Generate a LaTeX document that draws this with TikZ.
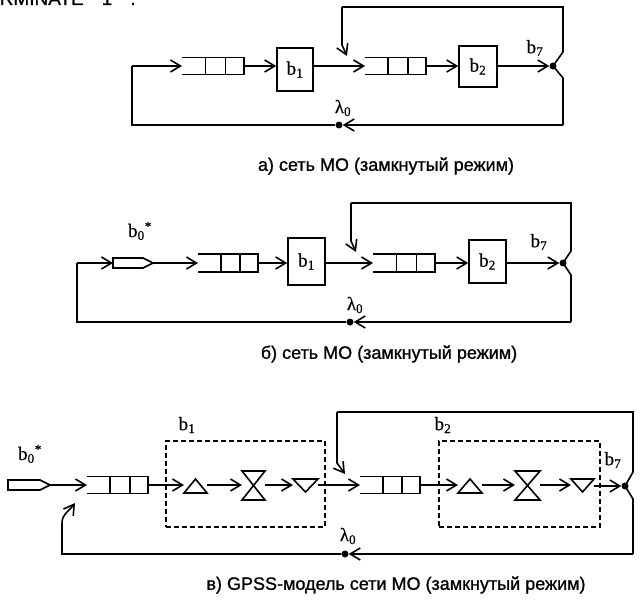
\documentclass[tikz,border=0pt]{standalone}
\usepackage{fontspec}
\setmainfont[FakeBold=0.5]{Liberation Serif}
\newfontfamily\capfont[FakeBold=1]{Liberation Sans}
\usetikzlibrary{arrows.meta,calc}

\tikzset{
 ln/.style={line width=1.6pt},
 arr/.style={-{Straight Barb[length=10pt,width=12pt]}},
 blk/.style={draw, line width=1.6pt, inner sep=0pt},
 ph/.style={inner sep=0pt, outer sep=0pt},
 dotn/.style={circle, fill, inner sep=0pt, minimum size=7pt},
 lbl/.style={font=\fontsize{19}{20}\selectfont, inner sep=0pt},
 captxt/.style={font=\capfont\fontsize{18}{20}\selectfont, inner sep=0pt},
 toptxt/.style={font=\capfont\fontsize{19}{20}\selectfont, inner sep=0pt},
 dbox/.style={draw, dash pattern=on 5pt off 3pt, line width=1.6pt, inner sep=0pt}
}

\newcommand\drawqueue[1]{%
 \draw[ln] (#1.north west) -- (#1.north east) -- (#1.south east) -- (#1.south west);
 \draw[ln] ($(#1.north west)!0.38!(#1.north east)$) -- ($(#1.south west)!0.38!(#1.south east)$);
 \draw[ln] ($(#1.north west)!0.70!(#1.north east)$) -- ($(#1.south west)!0.70!(#1.south east)$);}
\newcommand\drawgen[1]{%
 \draw[ln] (#1.north west) -- ($(#1.north east)+(-10,0)$) -- (#1.east) -- ($(#1.south east)+(-10,0)$) -- (#1.south west) -- cycle;}
\newcommand\drawup[1]{\draw[ln] (#1.south west) -- (#1.south east) -- (#1.north) -- cycle;}
\newcommand\drawdown[1]{\draw[ln] (#1.north west) -- (#1.north east) -- (#1.south) -- cycle;}
\newcommand\drawhg[1]{\draw[ln] (#1.north west) -- (#1.north east) -- (#1.south west) -- (#1.south east) -- cycle;}

\begin{document}
\begin{tikzpicture}[x=1pt,y=-1pt]
\useasboundingbox (0,0) rectangle (642,602);

% text cut off at the top edge, as in the reference
\begin{scope}
\clip (0,0) rectangle (642,602);
\node[toptxt, anchor=base east] (tterm) at (84,5) {TERMINATE};
\node[toptxt, anchor=base] (tone) at (107,5) {1};
\node[toptxt, anchor=base] (tdot) at (133,5) {.};
\end{scope}

%%%%%%%%%%%%%%%%%%%% a)
\node[ph, minimum width=62pt, minimum height=17pt] (aq1) at (213,66) {};
\drawqueue{aq1}
\node[blk, lbl, minimum width=36pt, minimum height=43pt] (ab1) at (295,69.5) {b\textsubscript{1}};
\node[ph, minimum width=61pt, minimum height=17pt] (aq2) at (395.5,66) {};
\drawqueue{aq2}
\node[blk, lbl, minimum width=38pt, minimum height=41pt] (ab2) at (478,66.5) {b\textsubscript{2}};
\node[dotn] (adot) at (553,66) {};
\node[dotn] (aldot) at (339,125) {};
\coordinate (aml) at (132,66);
\coordinate (abl) at (132,125);
\coordinate (abr) at (563,125);
\coordinate (aj1) at (563,52);
\coordinate (aj2) at (563,78);
\coordinate (atr) at (563,7);
\coordinate (atl) at (342,7);
\coordinate (ahook) at (342,45);
\coordinate (atip) at (347,56);

\draw[ln,arr] (aml) -- (aq1.west);
\draw[ln,arr] (aq1.east) -- (aq1.east -| ab1.west);
\draw[ln,arr] (ab1.east |- aq2.west) -- (aq2.west);
\draw[ln,arr] (aq2.east) -- (aq2.east -| ab2.west);
\draw[ln,arr] (ab2.east |- adot) -- (adot);
\draw[ln] (atl) -- (atr) -- (aj1) -- (adot.center) -- (aj2) -- (abr);
\draw[ln,arr] (atl) -- (ahook) -- (atip);
\draw[ln,arr] (abr) -- (aldot);
\draw[ln] (aldot) -- (abl) -- (aml);

\node[lbl] (ab7) at (535,48) {b\textsubscript{7}};
\node[lbl] (alam) at (343,108) {λ\textsubscript{0}};
\node[captxt] (acap) at (386,166) {а) сеть МО (замкнутый режим)};

%%%%%%%%%%%%%%%%%%%% б)
\node[ph, minimum width=40pt, minimum height=10pt] (bgen) at (133,263) {};
\drawgen{bgen}
\node[ph, minimum width=60pt, minimum height=18pt] (bq1) at (228,263) {};
\drawqueue{bq1}
\node[blk, lbl, minimum width=37pt, minimum height=47pt] (bb1) at (306.5,261.5) {b\textsubscript{1}};
\node[ph, minimum width=62pt, minimum height=18pt] (bq2) at (404,263) {};
\drawqueue{bq2}
\node[blk, lbl, minimum width=37pt, minimum height=43pt] (bb2) at (487.5,261.5) {b\textsubscript{2}};
\node[dotn] (bdot) at (563,263) {};
\node[dotn] (bldot) at (350,322) {};
\coordinate (bml) at (77,263);
\coordinate (bbl) at (77,322);
\coordinate (bbr) at (571,322);
\coordinate (bj1) at (571,251);
\coordinate (bj2) at (571,275);
\coordinate (btr) at (571,203);
\coordinate (btl) at (351,203);
\coordinate (bhook) at (351,241);
\coordinate (btip) at (356,252);

\draw[ln,arr] (bml) -- (bgen.west);
\draw[ln,arr] (bgen.east) -- (bq1.west);
\draw[ln,arr] (bq1.east) -- (bq1.east -| bb1.west);
\draw[ln,arr] (bb1.east |- bq2.west) -- (bq2.west);
\draw[ln,arr] (bq2.east) -- (bq2.east -| bb2.west);
\draw[ln,arr] (bb2.east |- bdot) -- (bdot);
\draw[ln] (btl) -- (btr) -- (bj1) -- (bdot.center) -- (bj2) -- (bbr);
\draw[ln,arr] (btl) -- (bhook) -- (btip);
\draw[ln,arr] (bbr) -- (bldot);
\draw[ln] (bldot) -- (bbl) -- (bml);

\node[lbl] (bb0) at (140,231) {b\textsubscript{0}\textsuperscript{*}};
\node[lbl] (bb7) at (539,242) {b\textsubscript{7}};
\node[lbl] (blam) at (355,305) {λ\textsubscript{0}};
\node[captxt] (bcap) at (389,354) {б) сеть МО (замкнутый режим)};

%%%%%%%%%%%%%%%%%%%% в)
\node[dbox, minimum width=159pt, minimum height=86pt] (cbox1) at (245.5,484) {};
\node[dbox, minimum width=161pt, minimum height=86pt] (cbox2) at (519.5,484) {};

\node[ph, minimum width=42pt, minimum height=10pt] (cgen) at (29,485) {};
\drawgen{cgen}
\node[ph, minimum width=61pt, minimum height=17pt] (cq1) at (117.5,485) {};
\drawqueue{cq1}
\node[ph, minimum width=23pt, minimum height=14pt] (ct1) at (195.5,486) {};
\drawup{ct1}
\node[ph, minimum width=23pt, minimum height=29pt] (ch1) at (253.5,485.5) {};
\drawhg{ch1}
\node[ph, minimum width=25pt, minimum height=13pt] (cv1) at (305.5,485.5) {};
\drawdown{cv1}
\node[ph, minimum width=60pt, minimum height=17pt] (cq2) at (390,485) {};
\drawqueue{cq2}
\node[ph, minimum width=24pt, minimum height=14pt] (ct2) at (470,486) {};
\drawup{ct2}
\node[ph, minimum width=25pt, minimum height=29pt] (ch2) at (527.5,485.5) {};
\drawhg{ch2}
\node[ph, minimum width=23pt, minimum height=13pt] (cv2) at (582.5,485.5) {};
\drawdown{cv2}
\node[dotn] (cdot) at (625,486) {};
\node[dotn] (cldot) at (345,554) {};
\coordinate (cbl) at (62,554);
\coordinate (cbend) at (62,523);
\coordinate (cctip) at (75,503);
\coordinate (cbr) at (633,554);
\coordinate (cj1) at (633,472);
\coordinate (cj2) at (633,499);
\coordinate (ctr) at (633,412);
\coordinate (ctl) at (337,412);
\coordinate (chook) at (337,463);
\coordinate (ctip) at (345,474);

\draw[ln,arr] (cgen.east) -- (cq1.west);
\draw[ln,arr] (cq1.east) -- (cq1.east -| ct1.west);
\draw[ln,arr] (ct1.east |- cq1.east) -- (cq1.east -| ch1.west);
\draw[ln,arr] (ch1.east |- cq1.east) -- (cq1.east -| cv1.west);
\draw[ln,arr] (cv1.east |- cq2.west) -- (cq2.west);
\draw[ln,arr] (cq2.east) -- (cq2.east -| ct2.west);
\draw[ln,arr] (ct2.east |- cq2.east) -- (cq2.east -| ch2.west);
\draw[ln,arr] (ch2.east |- cq2.east) -- (cq2.east -| cv2.west);
\draw[ln,arr] (cv2.east |- cdot) -- (cdot);
\draw[ln] (ctl) -- (ctr) -- (cj1) -- (cdot.center) -- (cj2) -- (cbr);
\draw[ln,arr] (ctl) -- (chook) -- (ctip);
\draw[ln,arr] (cbr) -- (cldot);
\draw[ln,arr] (cldot) -- (cbl) -- (cbend) to[out=90,in=-125] (cctip);

\node[lbl] (cb0) at (30,454) {b\textsubscript{0}\textsuperscript{*}};
\node[lbl] (cb1) at (187,425) {b\textsubscript{1}};
\node[lbl] (cb2) at (443,425) {b\textsubscript{2}};
\node[lbl] (cb7) at (613,460) {b\textsubscript{7}};
\node[lbl] (clam) at (348,536) {λ\textsubscript{0}};
\node[captxt] (ccap) at (396,585) {в) GPSS-модель сети МО (замкнутый режим)};
\end{tikzpicture}
\end{document}
